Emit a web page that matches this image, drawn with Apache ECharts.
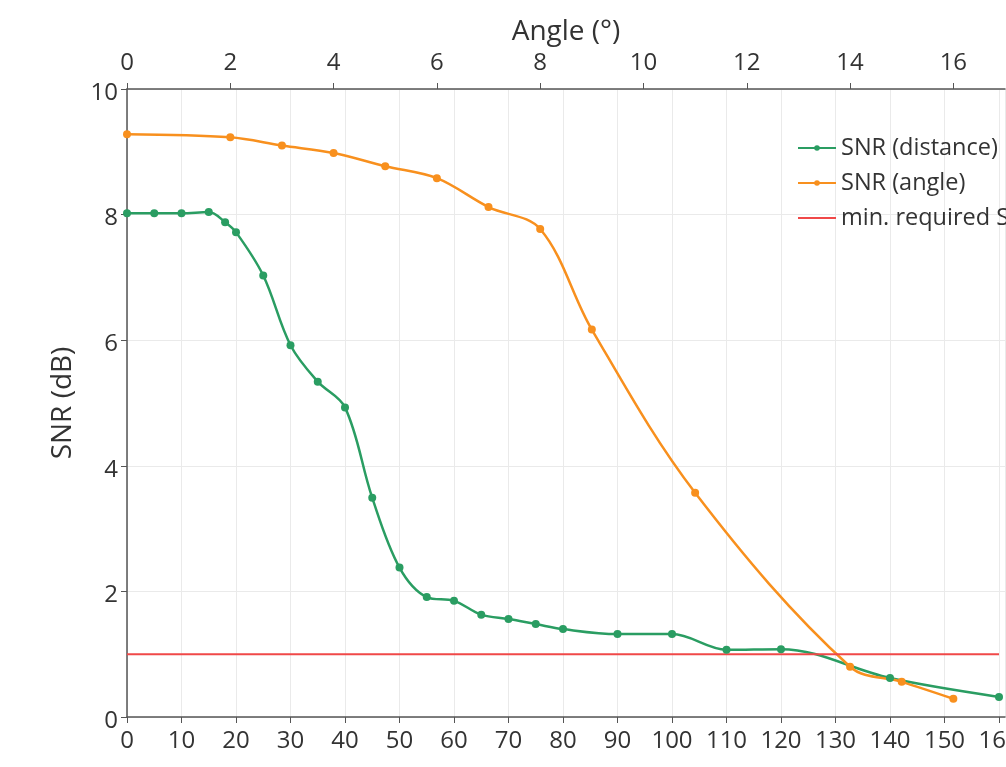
<!DOCTYPE html>
<html>
<head>
<meta charset="utf-8">
<script src="https://cdn.jsdelivr.net/npm/echarts@6/dist/echarts.min.js"></script>
<style>
  html, body { margin: 0; padding: 0; background: #fff; }
  #main { width: 1006px; height: 767px; }
</style>
</head>
<body>
<div id="main"></div>
<script>
// distance axis (bottom), values in dB
const distance = [0, 5, 10, 15, 18, 20, 25, 30, 35, 40, 45, 50, 55, 60, 65, 70, 75, 80, 90, 100, 110, 120, 140, 160]
const snrDistance = [8.02, 8.02, 8.02, 8.04, 7.88, 7.72, 7.03, 5.92, 5.34, 4.93, 3.49, 2.38, 1.91, 1.85, 1.63, 1.56, 1.48, 1.40, 1.32, 1.32, 1.07, 1.08, 0.62, 0.32]

// angle axis (top)
const angle = [0, 2, 3, 4, 5, 6, 7, 8, 9, 11, 14, 15, 16]
const snrAngle = [9.28, 9.23, 9.10, 8.98, 8.77, 8.58, 8.12, 7.77, 6.17, 3.57, 0.80, 0.56, 0.29]

// minimum required SNR
const minDistance = [0, 160]
const minSnr = [1, 1]

const fontFamily = '"Open Sans", sans-serif'
const textColor = '#333'
const axisColor = '#555'

let myChart = echarts.init(document.getElementById('main'))

const zip = (xs, ys) => xs.map((x, i) => [x, ys[i]])

let options = {
    animation: false,
    textStyle: { fontFamily: fontFamily },
    grid: { left: 127, top: 89, bottom: 50, width: 878, outerBoundsMode: 'none' },
    legend: {
        orient: 'vertical',
        left: 792,
        top: 131,
        itemWidth: 38,
        itemHeight: 7,
        itemGap: 11,
        data: [
            { name: 'SNR (distance)' },
            { name: 'SNR (angle)' },
            // plain line, no dot
            { name: 'min. required SNR', itemStyle: { opacity: 0 } }
        ],
        textStyle: { fontSize: 23.5, color: textColor, fontFamily: fontFamily }
    },
    xAxis: [{
        type: 'value',
        position: 'bottom',
        min: 0,
        max: 161.1,
        interval: 10,
        axisLine: { show: true, lineStyle: { color: axisColor, width: 1.5 } },
        axisTick: { show: true, length: 6, lineStyle: { color: axisColor } },
        axisLabel: { fontSize: 24, color: textColor, margin: 12, showMaxLabel: false },
        splitLine: { show: true, lineStyle: { color: '#eaeaea' } }
    }, {
        type: 'value',
        position: 'top',
        min: 0,
        max: 17,
        interval: 2,
        name: 'Angle (°)',
        nameLocation: 'middle',
        nameGap: 36,
        nameTextStyle: { fontSize: 28, color: textColor },
        axisLine: { show: true, lineStyle: { color: axisColor, width: 1.5 } },
        axisTick: { show: true, length: 6, lineStyle: { color: axisColor } },
        axisLabel: { fontSize: 24, color: textColor, margin: 14, showMaxLabel: false },
        splitLine: { show: false }
    }],
    yAxis: {
        type: 'value',
        min: 0,
        max: 10,
        interval: 2,
        name: 'SNR (dB)',
        nameLocation: 'middle',
        nameGap: 50,
        nameTextStyle: { fontSize: 28, color: textColor },
        axisLine: { show: true, lineStyle: { color: axisColor, width: 1.5 } },
        axisTick: { show: true, length: 6, lineStyle: { color: axisColor } },
        // labels sit a little below their tick, like the original
        axisLabel: { fontSize: 24, color: textColor, margin: 9, verticalAlign: 'top', lineHeight: 8 },
        splitLine: { show: true, lineStyle: { color: '#eaeaea' } }
    },
    series: [{
        name: 'SNR (distance)',
        type: 'line',
        xAxisIndex: 0,
        data: zip(distance, snrDistance),
        smooth: 0.35,
        symbol: 'circle',
        symbolSize: 8,
        itemStyle: { color: '#2a9d62' },
        lineStyle: { color: '#2a9d62', width: 2.5 }
    }, {
        name: 'SNR (angle)',
        type: 'line',
        xAxisIndex: 1,
        data: zip(angle, snrAngle),
        smooth: 0.35,
        symbol: 'circle',
        symbolSize: 8,
        itemStyle: { color: '#f8901e' },
        lineStyle: { color: '#f8901e', width: 2.5 }
    }, {
        name: 'min. required SNR',
        type: 'line',
        xAxisIndex: 0,
        data: zip(minDistance, minSnr),
        symbol: 'none',
        itemStyle: { color: '#f04848' },
        lineStyle: { color: '#f04848', width: 2 }
    }]
}

myChart.setOption(options)
</script>
</body>
</html>
